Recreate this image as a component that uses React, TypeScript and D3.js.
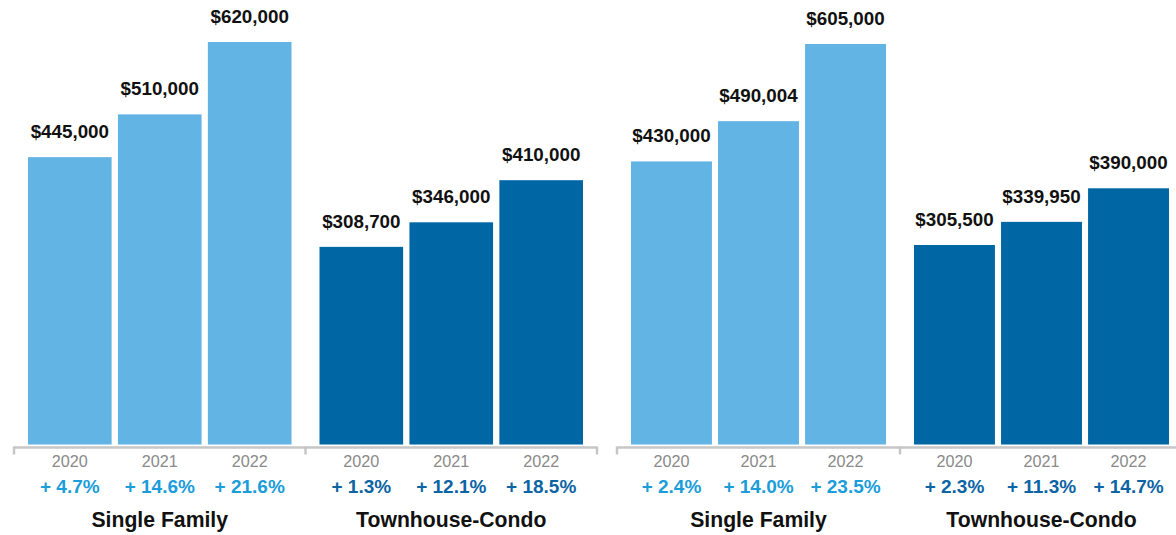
import React from 'react';
import * as d3 from 'd3';

const years = ['2020', '2021', '2022'];
const categories = ['Single Family', 'Townhouse-Condo'];

const leftSingleFamily = [445000, 510000, 620000];
const leftTownhouse = [308700, 346000, 410000];
const leftSingleFamilyChange = [4.7, 14.6, 21.6];
const leftTownhouseChange = [1.3, 12.1, 18.5];

const rightSingleFamily = [430000, 490004, 605000];
const rightTownhouse = [305500, 339950, 390000];
const rightSingleFamilyChange = [2.4, 14.0, 23.5];
const rightTownhouseChange = [2.3, 11.3, 14.7];

const W = 1176;
const H = 535;
const FONT = '"Liberation Sans", Arial, Helvetica, sans-serif';

const barColors = ['#62b4e4', '#0066a4'];
const pctColors = ['#1a9dd9', '#0d64a4'];

const fmtMoney = d3.format('$,');
const fmtPct = (v: number) => '+ ' + d3.format('.1f')(v) + '%';

type PanelProps = {
  x0: number;
  x1: number;
  top: number;
  series: number[][];
  changes: number[][];
};

const ZERO_Y = 450;
const BAR_BOTTOM = 444.5;
const AXIS_Y = 447.5;

function Panel({ x0, x1, top, series, changes }: PanelProps) {
  const maxV = d3.max(series.flat()) as number;
  const y = d3.scaleLinear().domain([0, maxV]).range([ZERO_Y, top]);
  const group = d3.scaleBand<string>().domain(categories).range([x0, x1]).padding(0);
  return (
    <g>
      <line x1={x0} x2={x1} y1={AXIS_Y} y2={AXIS_Y} stroke="#c6c6c6" strokeWidth={2.5} />
      {[x0, x0 + group.bandwidth(), x1].map((tx, i) => (
        <line key={i} x1={tx} x2={tx} y1={AXIS_Y - 1} y2={454.5} stroke="#c6c6c6" strokeWidth={2.5} />
      ))}
      {categories.map((cat, ci) => {
        const gx = group(cat) as number;
        const inner = d3
          .scaleBand<string>()
          .domain(years)
          .range([gx + 14, gx + group.bandwidth() - 14])
          .paddingInner(0.07)
          .paddingOuter(0);
        const cx = gx + group.bandwidth() / 2;
        return (
          <g key={cat}>
            {years.map((yr, i) => {
              const v = series[ci][i];
              const bx = inner(yr) as number;
              const bw = inner.bandwidth();
              const by = y(v);
              const mid = bx + bw / 2;
              return (
                <g key={yr}>
                  <rect x={bx} y={by} width={bw} height={BAR_BOTTOM - by} fill={barColors[ci]} />
                  <text x={mid} y={by - 19} textAnchor="middle" fontFamily={FONT} fontWeight="bold" fontSize={18.8} fill="#111">
                    {fmtMoney(v)}
                  </text>
                  <text x={mid} y={466.5} textAnchor="middle" fontFamily={FONT} fontSize={16.2} fill="#8a8a8a">
                    {yr}
                  </text>
                  <text x={mid} y={492.5} textAnchor="middle" fontFamily={FONT} fontWeight="bold" fontSize={19} fill={pctColors[ci]}>
                    {fmtPct(changes[ci][i])}
                  </text>
                </g>
              );
            })}
            <text x={cx} y={526.5} textAnchor="middle" fontFamily={FONT} fontWeight="bold" fontSize={21.2} fill="#111">
              {cat}
            </text>
          </g>
        );
      })}
    </g>
  );
}

export default function App() {
  return (
    <svg width={W} height={H} style={{ position: 'absolute', left: 0, top: 0, background: '#fff' }}>
      <rect x={0} y={0} width={W} height={H} fill="#fff" />
      <Panel
        x0={14}
        x1={597}
        top={42}
        series={[leftSingleFamily, leftTownhouse]}
        changes={[leftSingleFamilyChange, leftTownhouseChange]}
      />
      <Panel
        x0={617}
        x1={1183}
        top={44}
        series={[rightSingleFamily, rightTownhouse]}
        changes={[rightSingleFamilyChange, rightTownhouseChange]}
      />
    </svg>
  );
}
